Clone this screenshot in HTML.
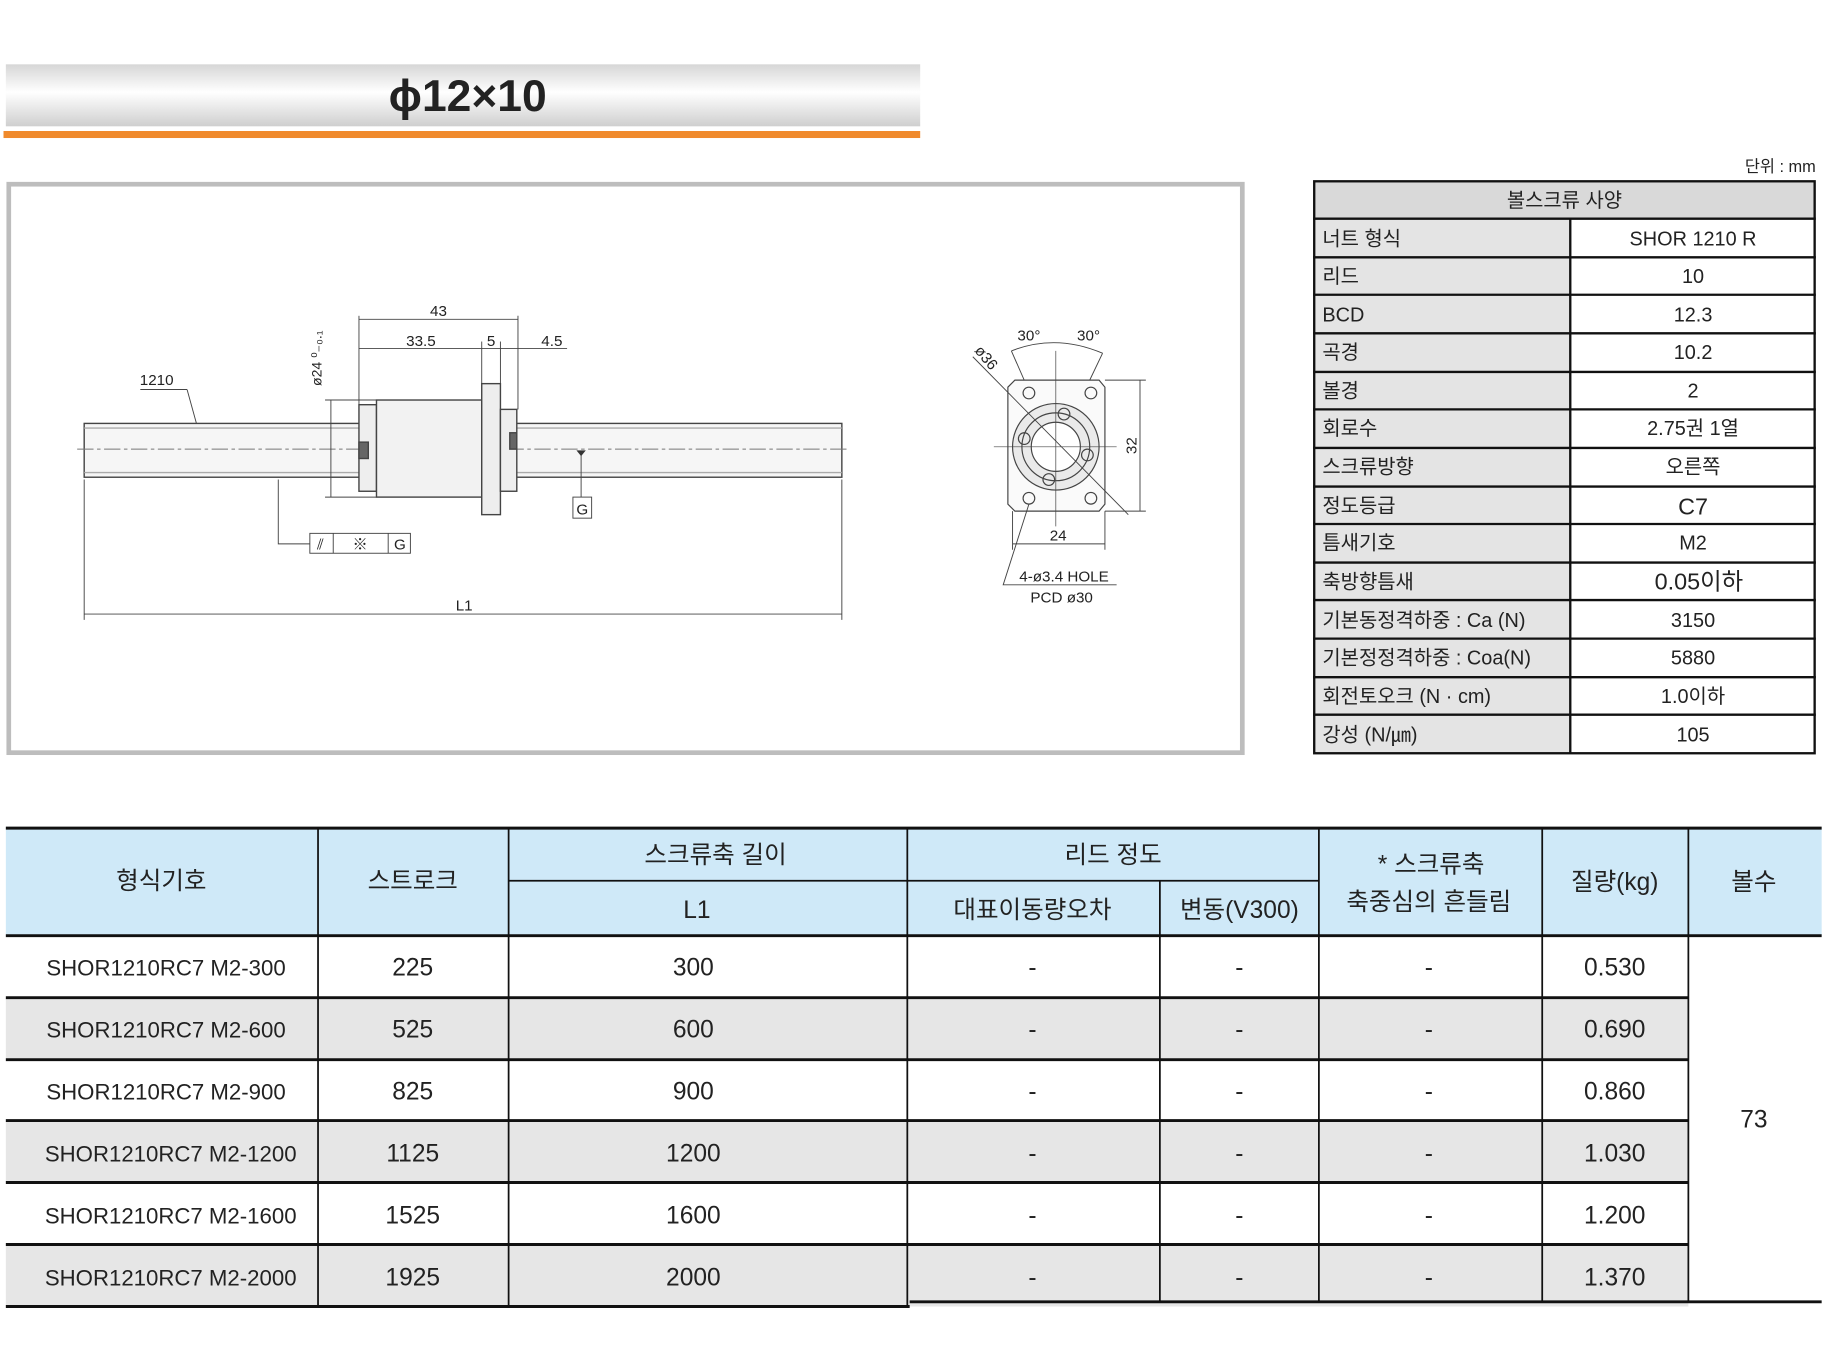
<!DOCTYPE html>
<html><head><meta charset="utf-8"><style>
html,body{margin:0;padding:0;background:#fff;width:1824px;height:1372px;overflow:hidden}
svg{display:block}
text{font-family:"Liberation Sans","Noto Sans CJK KR",sans-serif;fill:#222}
</style></head><body>
<svg width="1824" height="1372" viewBox="0 0 1560 1173" preserveAspectRatio="none" xmlns="http://www.w3.org/2000/svg">
<defs>
<linearGradient id="tb" x1="0" y1="0" x2="0" y2="1">
<stop offset="0" stop-color="#d6d6d6"/><stop offset="0.45" stop-color="#ffffff"/><stop offset="1" stop-color="#cfcfcf"/>
</linearGradient>
</defs>
<!-- title -->
<rect x="5" y="55" width="782" height="53" fill="url(#tb)"/>
<rect x="3" y="112" width="784" height="6" fill="#f08a2c"/>
<text x="400" y="95" font-size="38" font-weight="bold" text-anchor="middle" fill="#111">ϕ12×10</text>
<text x="1553" y="147" font-size="14" text-anchor="end">단위 : mm</text>

<!-- drawing box -->
<rect x="7.5" y="157.5" width="1055" height="486" fill="#fff" stroke="#bdbdbd" stroke-width="4"/>
<g stroke="#444" fill="none" stroke-width="1.2">
<rect x="72" y="362" width="648" height="46" fill="#f6f6f6"/>
<line x1="72" y1="366" x2="720" y2="366" stroke="#aaa"/>
<line x1="72" y1="404" x2="720" y2="404" stroke="#aaa"/>
<line x1="66" y1="384" x2="726" y2="384" stroke="#777" stroke-dasharray="14 3 3 3" stroke-width="0.8"/>
<rect x="307" y="346" width="15" height="74" fill="#eee"/>
<rect x="322" y="342" width="90" height="83" fill="#f2f2f2"/>
<rect x="412" y="328" width="16" height="112" fill="#eee"/>
<rect x="428" y="350" width="14" height="70" fill="#eee"/>
<rect x="307" y="378" width="8" height="14" fill="#666"/>
<rect x="436" y="370" width="6" height="14" fill="#666"/>
<line x1="307" y1="270" x2="307" y2="346" stroke-width="0.8"/>
<line x1="443" y1="270" x2="443" y2="350" stroke-width="0.8"/>
<line x1="412" y1="292" x2="412" y2="328" stroke-width="0.8"/>
<line x1="428" y1="292" x2="428" y2="328" stroke-width="0.8"/>
<line x1="307" y1="273" x2="443" y2="273" stroke-width="0.8"/>
<line x1="307" y1="298" x2="485" y2="298" stroke-width="0.8"/>
<line x1="278" y1="342" x2="322" y2="342" stroke-width="0.8"/>
<line x1="278" y1="425" x2="322" y2="425" stroke-width="0.8"/>
<line x1="283" y1="342" x2="283" y2="425" stroke-width="0.8"/>
<line x1="120" y1="333" x2="160" y2="333" stroke-width="0.8"/>
<line x1="160" y1="333" x2="168" y2="362" stroke-width="0.8"/>
<line x1="497" y1="386" x2="497" y2="425" stroke-width="0.8"/>
<rect x="490" y="425" width="16" height="18" stroke-width="0.8"/>
<polyline points="238,410 238,465 265,465" stroke-width="0.8"/>
<rect x="265" y="456" width="86" height="17" stroke-width="0.8"/>
<line x1="285" y1="456" x2="285" y2="473" stroke-width="0.8"/>
<line x1="332" y1="456" x2="332" y2="473" stroke-width="0.8"/>
<line x1="72" y1="410" x2="72" y2="530" stroke-width="0.8"/>
<line x1="720" y1="410" x2="720" y2="530" stroke-width="0.8"/>
<line x1="72" y1="525" x2="720" y2="525" stroke-width="0.8"/>
</g>
<polygon points="493,385 501,385 497,390" fill="#333"/>
<g font-size="13" fill="#333">
<text x="375" y="270" text-anchor="middle">43</text>
<text x="360" y="296" text-anchor="middle">33.5</text>
<text x="420" y="296" text-anchor="middle">5</text>
<text x="472" y="296" text-anchor="middle">4.5</text>
<text x="134" y="329" text-anchor="middle">1210</text>
<text x="498" y="440" text-anchor="middle">G</text>
<text x="274" y="470" text-anchor="middle">⫽</text>
<text x="308" y="470" text-anchor="middle">※</text>
<text x="342" y="470" text-anchor="middle">G</text>
<text x="397" y="522" text-anchor="middle">L1</text>
<text transform="translate(275,330) rotate(-90)" font-size="12">ø24 ⁰₋₀.₁</text>
</g>
<!-- end view -->
<g stroke="#444" fill="none" stroke-width="1">
<path d="M868,325 H940 L945,331 V431 L940,437 H868 L862,431 V331 Z" fill="#fafafa"/>
<circle cx="903" cy="382" r="37" fill="#eaeaea"/>
<circle cx="903" cy="382" r="29"/>
<circle cx="903" cy="382" r="21" fill="#fff"/>
<circle cx="880" cy="336" r="5"/><circle cx="933" cy="336" r="5"/>
<circle cx="880" cy="426" r="5"/><circle cx="933" cy="426" r="5"/>
<circle cx="910" cy="354" r="5"/><circle cx="876" cy="375" r="5"/>
<circle cx="930" cy="389" r="5"/><circle cx="897" cy="410" r="5"/>
<line x1="903" y1="300" x2="903" y2="450" stroke-width="0.6"/>
<line x1="850" y1="382" x2="955" y2="382" stroke-width="0.6"/>
<line x1="832" y1="305" x2="965" y2="440" stroke-width="0.8"/>
<path d="M865,300 Q903,285 943,302" stroke-width="0.8"/>
<line x1="865" y1="300" x2="876" y2="325" stroke-width="0.8"/>
<line x1="943" y1="302" x2="932" y2="325" stroke-width="0.8"/>
<line x1="945" y1="325" x2="980" y2="325" stroke-width="0.8"/>
<line x1="945" y1="437" x2="980" y2="437" stroke-width="0.8"/>
<line x1="975" y1="325" x2="975" y2="437" stroke-width="0.8"/>
<line x1="866" y1="437" x2="866" y2="470" stroke-width="0.8"/>
<line x1="945" y1="437" x2="945" y2="470" stroke-width="0.8"/>
<line x1="866" y1="465" x2="945" y2="465" stroke-width="0.8"/>
<polyline points="880,431 858,500 955,500" stroke-width="0.8"/>
</g>
<g font-size="13" fill="#333">
<text x="880" y="291" text-anchor="middle">30°</text>
<text x="931" y="291" text-anchor="middle">30°</text>
<text transform="translate(833,300) rotate(50)">ø36</text>
<text transform="translate(972,381) rotate(-90)" text-anchor="middle">32</text>
<text x="905" y="462" text-anchor="middle">24</text>
<text x="910" y="497" text-anchor="middle">4-ø3.4 HOLE</text>
<text x="908" y="515" text-anchor="middle">PCD ø30</text>
</g>

<!-- spec table -->
<g>
<rect x="1123" y="155" width="430" height="32" fill="#d9d9d9"/>
<rect x="1123" y="187" width="220" height="457" fill="#e4e4e4"/>
<g stroke="#111" stroke-width="2">
<rect x="1124" y="155" width="428" height="489" fill="none"/>
<line x1="1343" y1="187" x2="1343" y2="644"/>
<line x1="1123" y1="187" x2="1553" y2="187"/><line x1="1123" y1="220" x2="1553" y2="220"/>
<line x1="1123" y1="252" x2="1553" y2="252"/><line x1="1123" y1="285" x2="1553" y2="285"/>
<line x1="1123" y1="318" x2="1553" y2="318"/><line x1="1123" y1="350" x2="1553" y2="350"/>
<line x1="1123" y1="383" x2="1553" y2="383"/><line x1="1123" y1="416" x2="1553" y2="416"/>
<line x1="1123" y1="448" x2="1553" y2="448"/><line x1="1123" y1="481" x2="1553" y2="481"/>
<line x1="1123" y1="513" x2="1553" y2="513"/><line x1="1123" y1="546" x2="1553" y2="546"/>
<line x1="1123" y1="579" x2="1553" y2="579"/><line x1="1123" y1="611" x2="1553" y2="611"/>
</g>
<g font-size="17">
<text x="1338" y="177" text-anchor="middle">볼스크류 사양</text>
<text x="1131" y="210">너트 형식</text><text x="1448" y="210" text-anchor="middle">SHOR 1210 R</text>
<text x="1131" y="242">리드</text><text x="1448" y="242" text-anchor="middle">10</text>
<text x="1131" y="275">BCD</text><text x="1448" y="275" text-anchor="middle">12.3</text>
<text x="1131" y="307">곡경</text><text x="1448" y="307" text-anchor="middle">10.2</text>
<text x="1131" y="340">볼경</text><text x="1448" y="340" text-anchor="middle">2</text>
<text x="1131" y="372">회로수</text><text x="1448" y="372" text-anchor="middle">2.75권 1열</text>
<text x="1131" y="405">스크류방향</text><text x="1448" y="405" text-anchor="middle">오른쪽</text>
<text x="1131" y="438">정도등급</text><text x="1448" y="440" text-anchor="middle" font-size="20">C7</text>
<text x="1131" y="470">틈새기호</text><text x="1448" y="470" text-anchor="middle">M2</text>
<text x="1131" y="503">축방향틈새</text><text x="1453" y="504" text-anchor="middle" font-size="20">0.05이하</text>
<text x="1131" y="536">기본동정격하중 : Ca (N)</text><text x="1448" y="536" text-anchor="middle">3150</text>
<text x="1131" y="568">기본정정격하중 : Coa(N)</text><text x="1448" y="568" text-anchor="middle">5880</text>
<text x="1131" y="601">회전토오크 (N · cm)</text><text x="1448" y="601" text-anchor="middle">1.0이하</text>
<text x="1131" y="634">강성 (N/㎛)</text><text x="1448" y="634" text-anchor="middle">105</text>
</g>
</g>

<!-- bottom table -->
<rect x="5" y="707" width="1553" height="93" fill="#cfe9f8"/>
<rect x="5" y="853" width="1439" height="53" fill="#e6e6e6"/>
<rect x="5" y="958" width="1439" height="53" fill="#e6e6e6"/>
<rect x="5" y="1064" width="1439" height="53" fill="#e6e6e6"/>
<g stroke="#111" stroke-width="2.5">
<line x1="5" y1="708" x2="1558" y2="708"/>
<line x1="5" y1="800" x2="1558" y2="800"/>
<line x1="5" y1="853" x2="1444" y2="853"/>
<line x1="5" y1="906" x2="1444" y2="906"/>
<line x1="5" y1="958" x2="1444" y2="958"/>
<line x1="5" y1="1011" x2="1444" y2="1011"/>
<line x1="5" y1="1064" x2="1444" y2="1064"/>
<line x1="5" y1="1117" x2="778" y2="1117"/>
<line x1="778" y1="1113" x2="1558" y2="1113"/>
</g>
<g stroke="#111" stroke-width="1.5">
<line x1="435" y1="753" x2="1128" y2="753"/>
<line x1="272" y1="708" x2="272" y2="1117"/>
<line x1="435" y1="708" x2="435" y2="1117"/>
<line x1="776" y1="708" x2="776" y2="1117"/>
<line x1="992" y1="753" x2="992" y2="1113"/>
<line x1="1128" y1="708" x2="1128" y2="1113"/>
<line x1="1319" y1="708" x2="1319" y2="1113"/>
<line x1="1444" y1="708" x2="1444" y2="1113"/>
</g>
<g font-size="21" text-anchor="middle">
<text x="138" y="760">형식기호</text>
<text x="353" y="760">스트로크</text>
<text x="612" y="738">스크류축 길이</text>
<text x="596" y="785">L1</text>
<text x="952" y="738">리드 정도</text>
<text x="883" y="785">대표이동량오차</text>
<text x="1060" y="785">변동(V300)</text>
<text x="1224" y="746">* 스크류축</text>
<text x="1222" y="778">축중심의 흔들림</text>
<text x="1381" y="761">질량(kg)</text>
<text x="1500" y="761">볼수</text>
</g>
<g font-size="21" text-anchor="middle">
<g font-size="19">
<text x="142" y="834">SHOR1210RC7 M2-300</text>
<text x="142" y="887">SHOR1210RC7 M2-600</text>
<text x="142" y="940">SHOR1210RC7 M2-900</text>
<text x="146" y="993">SHOR1210RC7 M2-1200</text>
<text x="146" y="1046">SHOR1210RC7 M2-1600</text>
<text x="146" y="1099">SHOR1210RC7 M2-2000</text>
</g>
<text x="353" y="834">225</text><text x="593" y="834">300</text>
<text x="883" y="834">-</text><text x="1060" y="834">-</text><text x="1222" y="834">-</text><text x="1381" y="834">0.530</text>
<text x="353" y="887">525</text><text x="593" y="887">600</text>
<text x="883" y="887">-</text><text x="1060" y="887">-</text><text x="1222" y="887">-</text><text x="1381" y="887">0.690</text>
<text x="353" y="940">825</text><text x="593" y="940">900</text>
<text x="883" y="940">-</text><text x="1060" y="940">-</text><text x="1222" y="940">-</text><text x="1381" y="940">0.860</text>
<text x="353" y="993">1125</text><text x="593" y="993">1200</text>
<text x="883" y="993">-</text><text x="1060" y="993">-</text><text x="1222" y="993">-</text><text x="1381" y="993">1.030</text>
<text x="353" y="1046">1525</text><text x="593" y="1046">1600</text>
<text x="883" y="1046">-</text><text x="1060" y="1046">-</text><text x="1222" y="1046">-</text><text x="1381" y="1046">1.200</text>
<text x="353" y="1099">1925</text><text x="593" y="1099">2000</text>
<text x="883" y="1099">-</text><text x="1060" y="1099">-</text><text x="1222" y="1099">-</text><text x="1381" y="1099">1.370</text>
<text x="1500" y="964">73</text>
</g>
</svg>
</body></html>
